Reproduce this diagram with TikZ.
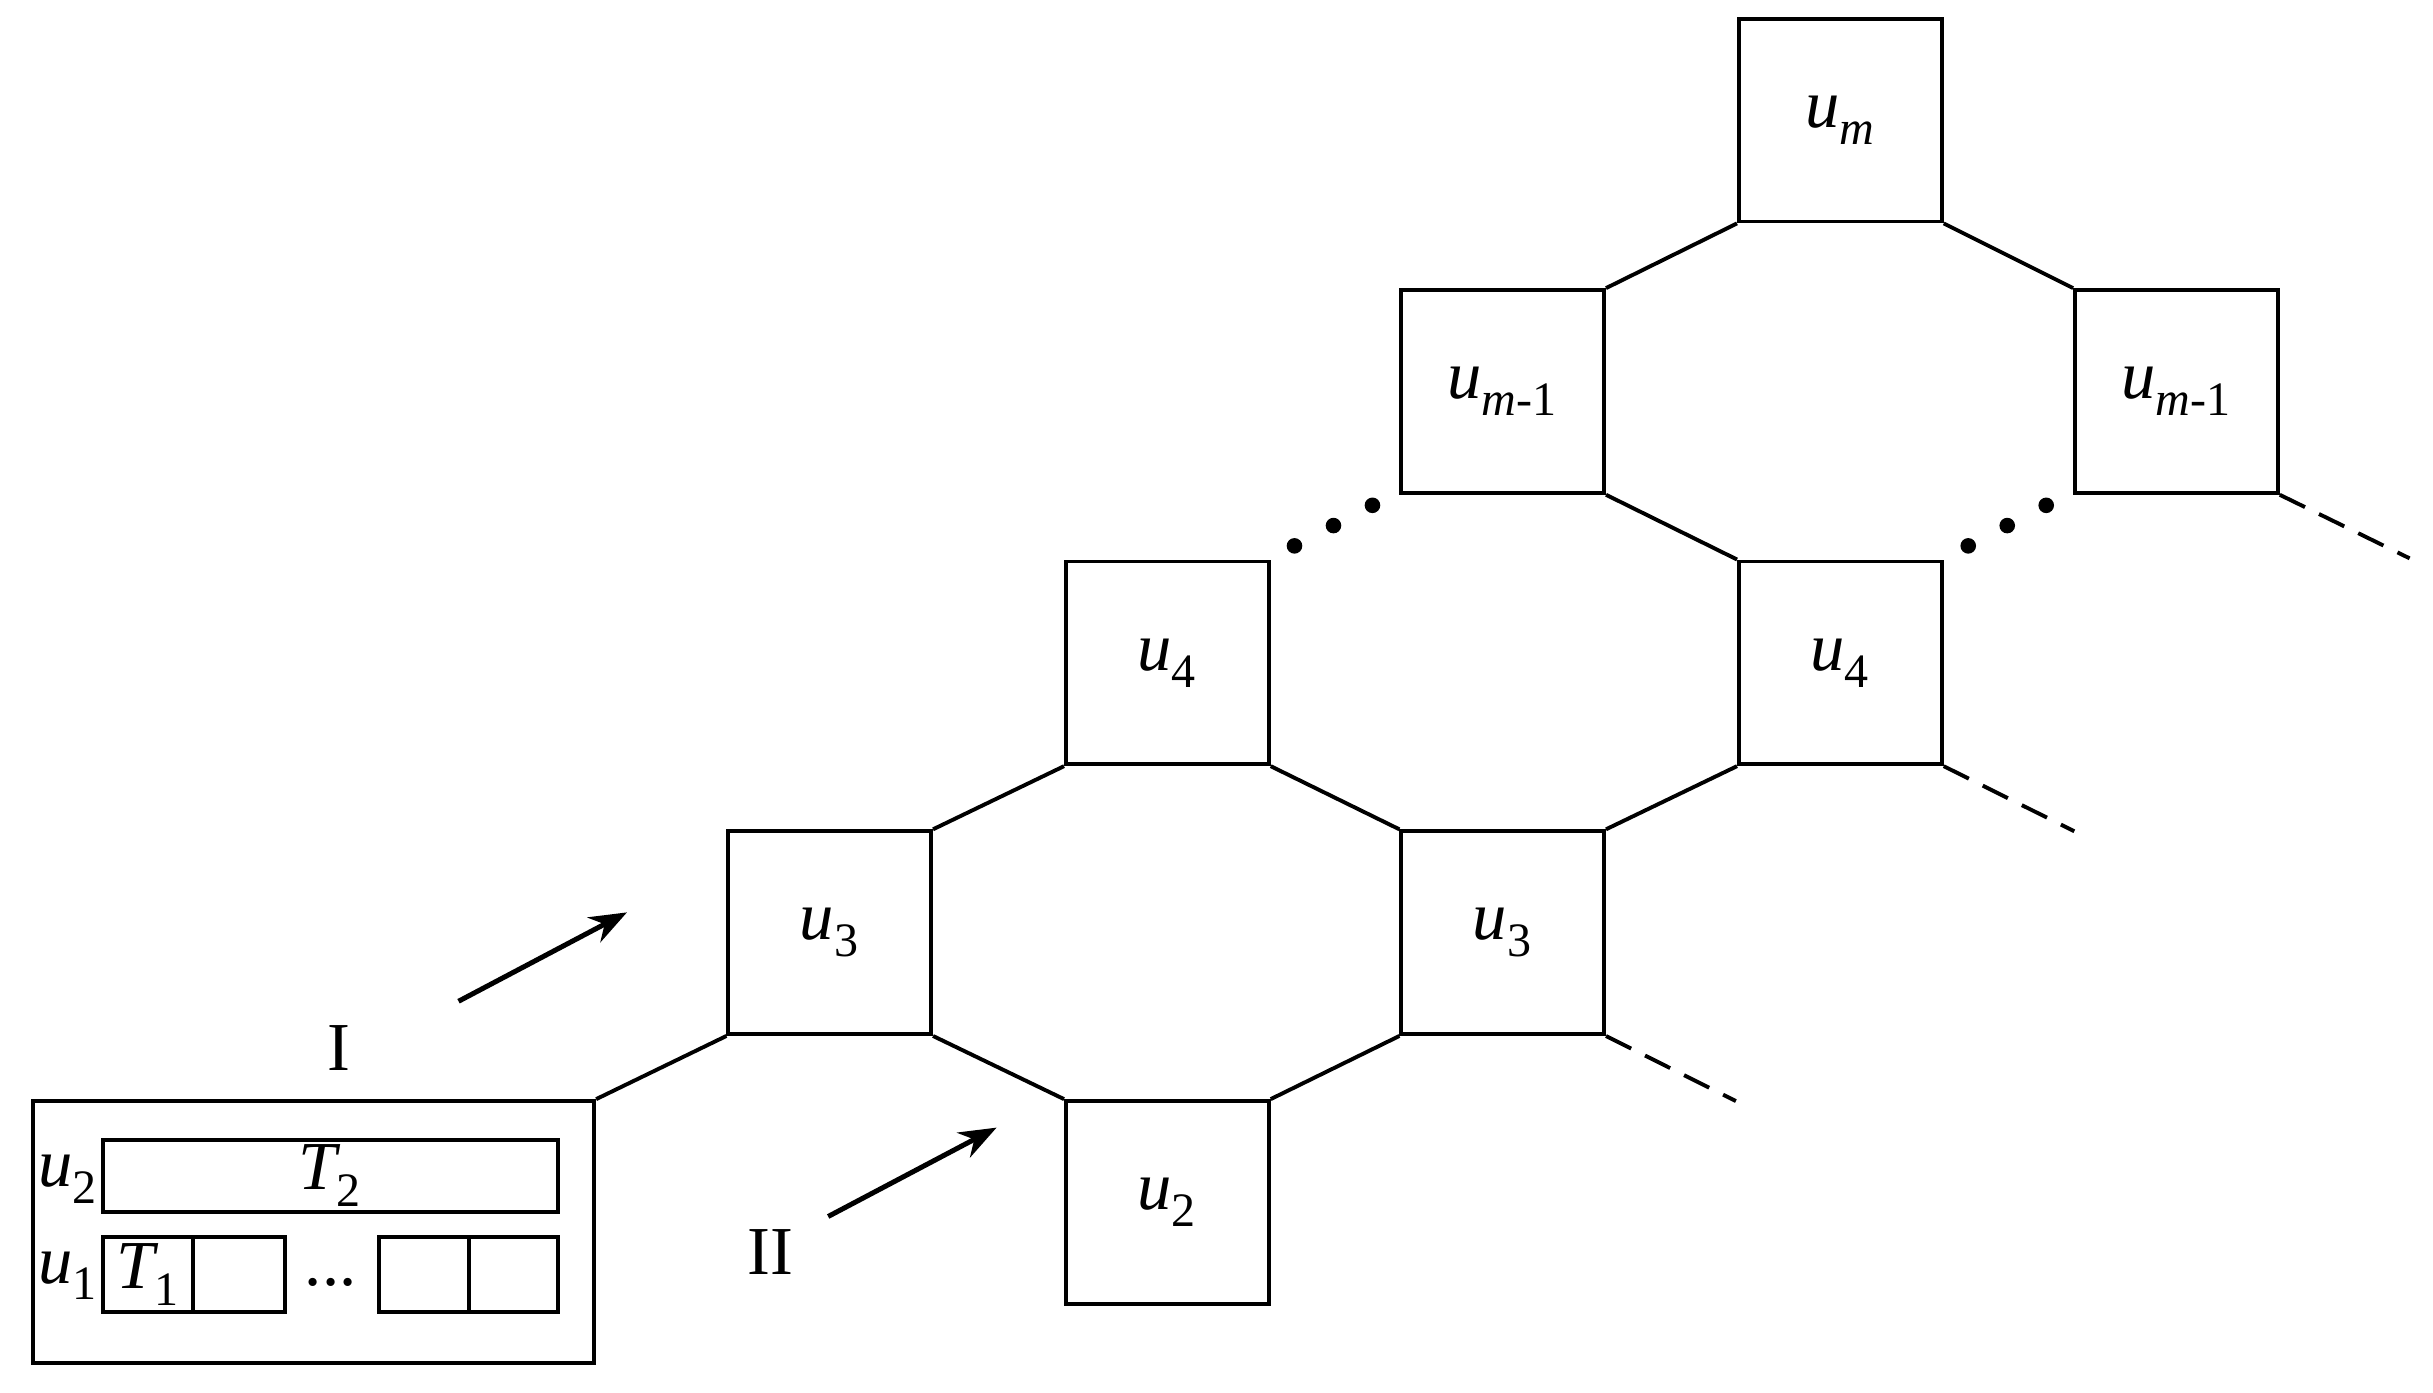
\documentclass[tikz,border=0pt]{standalone}
\usepackage{fontspec}
\setmainfont{Liberation Serif}
\usepackage{unicode-math}
\setmathfont{Latin Modern Math}
\setmathfont[range=it]{Liberation Serif Italic}
\setmathfont[range=up]{Liberation Serif}
\usetikzlibrary{arrows.meta}
\begin{document}
\begin{tikzpicture}[x=0.5pt,y=-0.5pt,line width=1.25pt,
  sq/.style={draw,minimum width=65pt,minimum height=65pt,inner sep=0pt,font=\fontsize{22}{24}\selectfont},
  cell/.style={draw,inner sep=0pt,font=\fontsize{22}{24}\selectfont},
  lbl/.style={font=\fontsize{22}{24}\selectfont,inner sep=0pt},
  dot/.style={circle,fill,inner sep=0pt,minimum size=5pt},
  arr/.style={-{Stealth[length=12pt,width=9pt]},line width=1.6pt}]
\useasboundingbox (0,0) rectangle (1560,893);
\node[sq] (um) at (1180,77) {$u_m$};
\node[sq] (umL) at (963.5,251) {$u_{m\text{-}1}$};
\node[sq] (umR) at (1395.5,251) {$u_{m\text{-}1}$};
\node[sq] (u4L) at (748.5,425) {$u_4$};
\node[sq] (u4R) at (1180,425) {$u_4$};
\node[sq] (u3L) at (532,598) {$u_3$};
\node[sq] (u3R) at (963.5,598) {$u_3$};
\node[sq] (u2) at (748.5,771) {$u_2$};
\node[draw,minimum width=180pt,minimum height=84pt,inner sep=0pt] (box) at (201,790) {};
\node[cell,minimum width=146pt,minimum height=23pt] (t2) at (212,754) {$T_2$};
\node[cell,minimum width=29pt,minimum height=24pt] (c1) at (95,817) {$T_1$};
\node[cell,minimum width=29.5pt,minimum height=24pt] (c2) at (153.5,817) {};
\node[cell,minimum width=29pt,minimum height=24pt] (c3) at (272,817) {};
\node[cell,minimum width=28.5pt,minimum height=24pt] (c4) at (329.5,817) {};
\node[lbl] (dd) at (212,822) {...};
\node[lbl] (l2) at (44,756) {$u_2$};
\node[lbl] (l1) at (44,818) {$u_1$};
\node[lbl] (I) at (217,672) {I};
\node[lbl] (II) at (494,803) {II};
\draw (box.north east) -- (u3L.south west);
\draw (u3L.north east) -- (u4L.south west);
\draw (u4L.south east) -- (u3R.north west);
\draw (u3L.south east) -- (u2.north west);
\draw (u2.north east) -- (u3R.south west);
\draw (u3R.north east) -- (u4R.south west);
\draw (umL.north east) -- (um.south west);
\draw (um.south east) -- (umR.north west);
\draw (umL.south east) -- (u4R.north west);
\coordinate (e1) at (1113,706);
\coordinate (e2) at (1330,533);
\coordinate (e3) at (1545,358);
\draw[dash pattern=on 9pt off 5pt] (u3R.south east) -- (e1);
\draw[dash pattern=on 9pt off 5pt] (u4R.south east) -- (e2);
\draw[dash pattern=on 9pt off 5pt] (umR.south east) -- (e3);
\foreach \i/\x/\y in {a/830/350,b/855/337,c/880/324,d/1262/350,e/1287/337,f/1312/324}
  \node[dot] (d\i) at (\x,\y) {};
\coordinate (a1s) at (294,642); \coordinate (a1e) at (402,585);
\coordinate (a2s) at (531,780); \coordinate (a2e) at (639,723);
\draw[arr] (a1s) -- (a1e);
\draw[arr] (a2s) -- (a2e);
\end{tikzpicture}
\end{document}
